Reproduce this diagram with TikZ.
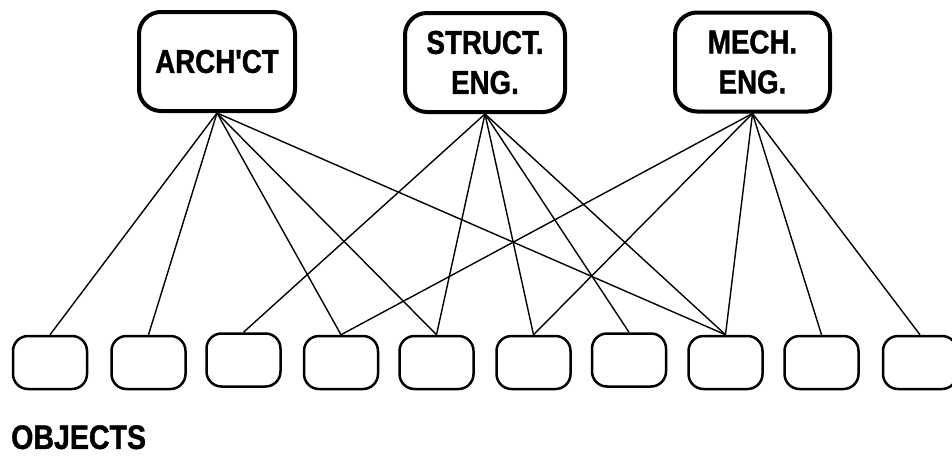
\documentclass[tikz,border=0pt]{standalone}
\usepackage{fontspec}
\newfontfamily\lbl[FakeStretch=0.84,FakeBold=1.2]{Liberation Sans Bold}
\begin{document}
\begin{tikzpicture}[x=1pt,y=-1pt,
  role/.style={draw,line width=4pt,rounded corners=22pt,minimum height=99pt,
    inner sep=0pt,align=center,font=\lbl\fontsize{33}{40}\selectfont},
  obj/.style={draw,line width=2.5pt,rounded corners=15pt,minimum width=74pt,
    minimum height=53pt,inner sep=0pt},
  link/.style={line width=1.4pt}]
\useasboundingbox (0,0) rectangle (952,455);

% the three disciplines
\node[role,minimum width=156pt] (arch)   at (217,61.5) {ARCH'CT};
\node[role,minimum width=160pt] (struct) at (485,62.5) {STRUCT.\\ENG.};
\node[role,minimum width=155pt] (mech)   at (752.5,62) {MECH.\\ENG.};

% the shared objects
\node[obj] (o1)  at (50,362.5)  {};
\node[obj] (o2)  at (148.5,362.5) {};
\node[obj] (o3)  at (243.5,360) {};
\node[obj] (o4)  at (341,362.5) {};
\node[obj] (o5)  at (436.5,362.5) {};
\node[obj] (o6)  at (533.5,362.5) {};
\node[obj] (o7)  at (629,360) {};
\node[obj] (o8)  at (725.5,362.5) {};
\node[obj] (o9)  at (821.5,362.5) {};
\node[obj] (o10) at (920,362.5) {};

\node[anchor=north west,inner sep=0pt,font=\lbl\fontsize{34}{38}\selectfont]
  (objects) at (11,425) {OBJECTS};

% who uses which object
\foreach \o in {o1,o2,o4,o5,o8}
  \draw[link] (arch.south) -- (\o.north);
\foreach \o in {o3,o5,o6,o7,o8}
  \draw[link] (struct.south) -- (\o.north);
\foreach \o in {o4,o6,o8,o9,o10}
  \draw[link] (mech.south) -- (\o.north);
\end{tikzpicture}
\end{document}
